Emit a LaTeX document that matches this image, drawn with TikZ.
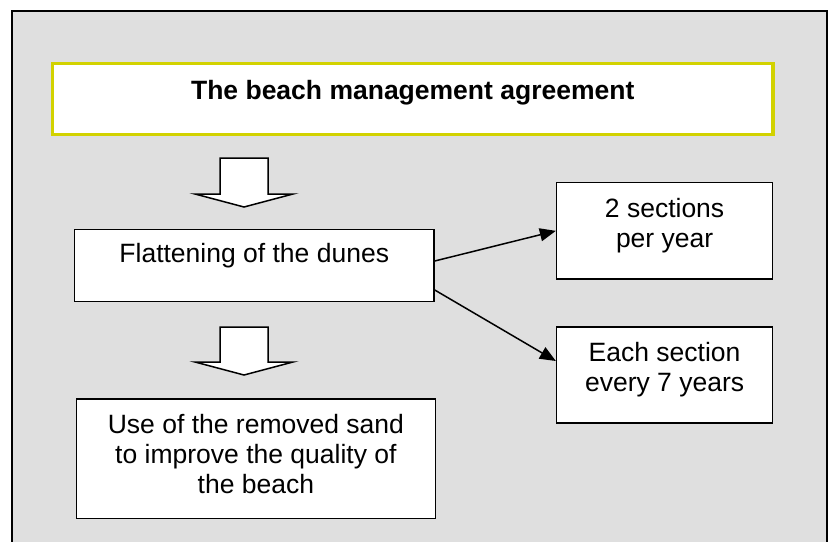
\documentclass[tikz,border=0pt]{standalone}
\usepackage{fontspec}
\setmainfont{Liberation Sans}
\usetikzlibrary{arrows.meta,calc}
\definecolor{bggray}{RGB}{223,223,223}
\definecolor{titleyellow}{RGB}{210,210,0}
\newcommand{\dnrule}[1]{\rule[-#1]{0pt}{#1}}
\newcommand{\diafont}{\fontsize{26.5}{30}\selectfont}
\tikzset{
  textbox/.style={draw=black, line width=1.5pt, fill=white, inner sep=0pt,
    align=center, font=\diafont},
  titlebox/.style={draw=titleyellow, line width=3.3pt, fill=white, inner sep=0pt,
    align=center, font=\diafont\bfseries},
  blockarrow/.style={draw=black, line width=1.5pt, fill=white, line join=miter},
  conn/.style={line width=1.5pt, -{Triangle[length=16pt,width=13pt]}}
}
\begin{document}
\begin{tikzpicture}[x=1pt,y=-1pt]
\useasboundingbox (0,0) rectangle (829,541);
\begin{scope}
  \clip (0,0) rectangle (829,541);
  \draw[line width=2pt, fill=bggray] (11.5,10.5) rectangle (826.7,570);
\end{scope}

\node[titlebox, minimum width=720.5pt, minimum height=70.8pt] (title)
  at (412.75,98.9) {The beach management agreement\dnrule{17.3pt}};

\node[textbox, minimum width=359.5pt, minimum height=72pt] (flat)
  at (254.25,265.5) {Flattening of the dunes\dnrule{24.3pt}};

\node[textbox, minimum width=358.8pt, minimum height=119.3pt] (use)
  at (255.9,458.7) {Use of the removed sand\\to improve the quality of\\the beach\dnrule{9.3pt}};

\node[textbox, minimum width=216pt, minimum height=96.3pt] (sec)
  at (664.6,230.85) {2 sections\\per year\dnrule{15.3pt}};

\node[textbox, minimum width=216pt, minimum height=96pt] (each)
  at (664.6,375) {Each section\\every 7 years\dnrule{15.3pt}};

% block arrows
\draw[blockarrow] (220,158) -- (268,158) -- (268,194) -- (293,194) -- (244,207)
  -- (195,194) -- (220,194) -- cycle;
\draw[blockarrow] (220,327) -- (268,327) -- (268,362) -- (293,362) -- (244,375)
  -- (195,362) -- (220,362) -- cycle;

% connectors
\coordinate (f1) at ($(flat.east)+(0,-4.5)$);
\coordinate (f2) at ($(flat.east)+(0,24.5)$);
\coordinate (e1) at ($(each.west)+(0,-14)$);
\draw[conn] (f1) -- (sec.west);
\draw[conn] (f2) -- (e1);
\end{tikzpicture}
\end{document}
